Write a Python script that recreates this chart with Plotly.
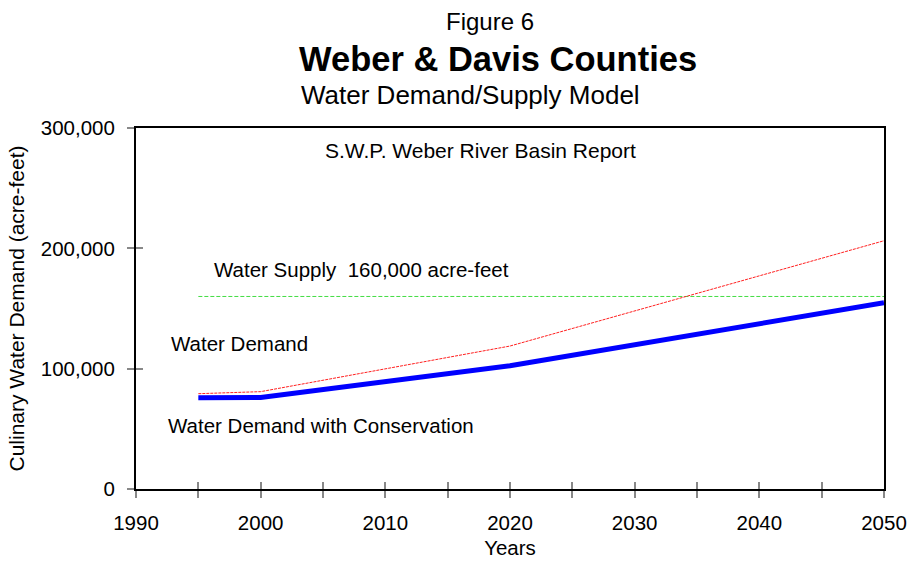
import plotly.graph_objects as go

years = [1995, 2000, 2020, 2050]
water_demand = [79200, 80900, 118800, 206300]
demand_conservation = [75900, 76000, 102500, 154800]
supply_years = [1995, 2050]
water_supply = [160000, 160000]

x_ticks = [1990, 2000, 2010, 2020, 2030, 2040, 2050]
y_ticks = [0, 100000, 200000, 300000]
y_tick_labels = ["0", "100,000", "200,000", "300,000"]

FONT = "Liberation Sans, Arial, sans-serif"
FS = 20.5

fig = go.Figure()
fig.add_trace(go.Scatter(x=supply_years, y=water_supply, mode="lines",
                         line=dict(color="#44dd44", width=1, dash="4px,2px"),
                         showlegend=False, hoverinfo="skip"))
fig.add_trace(go.Scatter(x=years, y=water_demand, mode="lines",
                         line=dict(color="#ff2020", width=1, dash="3px,1px"),
                         showlegend=False))
fig.add_trace(go.Scatter(x=years, y=demand_conservation, mode="lines",
                         line=dict(color="#0000ff", width=5),
                         showlegend=False))
# invisible trace for overlay axes (inside tick marks)
fig.add_trace(go.Scatter(x=[1990], y=[0], xaxis="x2", yaxis="y2", mode="markers",
                         marker=dict(opacity=0), showlegend=False, hoverinfo="skip"))

W, H = 907, 561
L, R, T, B = 136, 23, 128, 72
pw, ph = W - L - R, H - T - B

def px(x):
    return (x - L) / pw

def py(y):
    return (H - B - y) / ph

axis_common = dict(showgrid=False, zeroline=False, linecolor="black", linewidth=2,
                   tickcolor="#888888", tickwidth=2, ticklen=7, automargin=False)

fig.update_layout(
    width=W, height=H,
    margin=dict(l=L, r=R, t=T, b=B),
    plot_bgcolor="white", paper_bgcolor="white",
    font=dict(family=FONT, size=FS, color="black"),
    xaxis=dict(range=[1990, 2050], tickvals=x_ticks, ticks="outside", mirror=True,
               showline=True, ticklabelstandoff=7, tickfont=dict(size=FS),
               title=dict(text="Years", standoff=8, font=dict(size=FS)),
               minor=dict(dtick=5, tick0=1990, ticks="outside", ticklen=7,
                          tickcolor="#888888", tickwidth=2),
               **axis_common),
    yaxis=dict(range=[0, 300000], tickvals=y_ticks, ticktext=y_tick_labels,
               ticks="outside", mirror=True, showline=True, ticklabelstandoff=8,
               tickfont=dict(size=FS),
               title=dict(text="Culinary Water Demand (acre-feet)", standoff=10,
                          font=dict(size=21)),
               **axis_common),
    xaxis2=dict(range=[1990, 2050], overlaying="x", tickvals=x_ticks, ticks="inside",
                showticklabels=False, showline=False, showgrid=False, zeroline=False,
                tickcolor="#888888", tickwidth=2, ticklen=7, automargin=False,
                minor=dict(dtick=5, tick0=1990, ticks="inside", ticklen=7,
                           tickcolor="#888888", tickwidth=2)),
    yaxis2=dict(range=[0, 300000], overlaying="y", tickvals=y_ticks, ticks="inside",
                showticklabels=False, showline=False, showgrid=False, zeroline=False,
                tickcolor="#888888", tickwidth=2, ticklen=7, automargin=False),
)

ann = []
ann.append(dict(text="Figure 6", x=px(489.5), y=py(21.5), xref="paper", yref="paper",
                xanchor="center", yanchor="middle", showarrow=False, font=dict(size=24)))
ann.append(dict(text="<b>Weber & Davis Counties</b>", x=px(498), y=py(59), xref="paper",
                yref="paper", xanchor="center", yanchor="middle", showarrow=False,
                font=dict(size=34.5)))
ann.append(dict(text="Water Demand/Supply Model", x=px(470), y=py(95), xref="paper",
                yref="paper", xanchor="center", yanchor="middle", showarrow=False,
                font=dict(size=26)))
ann.append(dict(text="S.W.P. Weber River Basin Report", x=2017.6, y=281700,
                showarrow=False, xanchor="center", yanchor="middle", font=dict(size=21)))
ann.append(dict(text="Water Supply  160,000 acre-feet", x=1996.1, y=182000,
                showarrow=False, xanchor="left", yanchor="middle", font=dict(size=FS)))
ann.append(dict(text="Water Demand", x=1992.65, y=121300,
                showarrow=False, xanchor="left", yanchor="middle", font=dict(size=FS)))
ann.append(dict(text="Water Demand with Conservation", x=1992.4, y=52400,
                showarrow=False, xanchor="left", yanchor="middle", font=dict(size=FS)))
fig.update_layout(annotations=ann)

fig.write_html("out.html", config={"displayModeBar": False},
               post_script="document.body.style.margin='0';document.body.style.overflow='hidden';")
